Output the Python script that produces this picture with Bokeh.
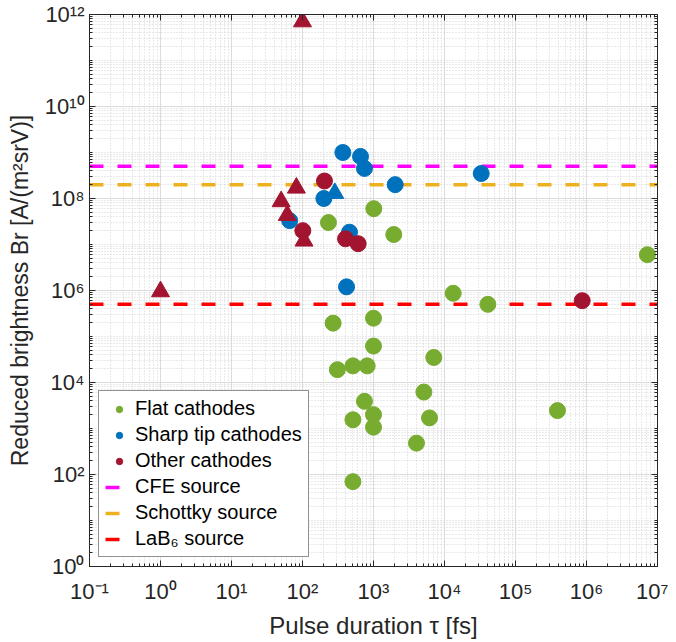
from bokeh.plotting import figure
from bokeh.models import (LogAxis, FixedTicker, CustomJSTickFormatter, Legend, LegendItem,
                          Range1d)
from bokeh.embed import file_html
from bokeh.resources import INLINE

# ---------------- data ----------------
flat_tau = [232, 1010, 1930, 7.2e6, 13250, 40800, 270, 1000, 1000, 7070, 310, 513, 815,
            5120, 746, 513, 1000, 1000, 6150, 3.9e5, 4030, 513]
flat_br = [3.0e7, 6e7, 1.65e7, 6e6, 8.7e5, 5e5, 1.95e5, 2.5e5, 6.2e4, 3.5e4, 1.9e4, 2.3e4, 2.3e4,
           6.2e3, 3.9e3, 1.55e3, 2e3, 1.07e3, 1.7e3, 2.45e3, 480, 70]

sharp_tau = [370, 656, 746, 2020, 32900, 200, 66, 459, 417]
sharp_br = [1e9, 8.2e8, 4.5e8, 2e8, 3.5e8, 1e8, 3.3e7, 1.85e7, 1.2e6]
sharp_tri_tau = [285]
sharp_tri_br = [1.3e8]

other_tau = [204, 101, 404, 608, 8.7e5]
other_br = [2.4e8, 2e7, 1.33e7, 1.04e7, 6e5]
other_tri_tau = [100, 82, 50, 61, 105, 1]
other_tri_br = [7e11, 1.7e8, 8.6e7, 4.3e7, 1.2e7, 9.5e5]

line_tau = [1e-1, 1e7]
cfe_br = [5e8, 5e8]
schottky_br = [2e8, 2e8]
lab6_br = [5e5, 5e5]

x_major = [10.0 ** k for k in range(-1, 8)]
y_major = [10.0 ** k for k in range(0, 13, 2)]

GREEN = "#77AC30"
BLUE = "#0072BD"
DRED = "#A2142F"
MAGENTA = "#FF00FF"
ORANGE = "#EDB120"
RED = "#FF0000"
TXT = "#262626"
FONT = "Liberation Sans"

x_minor = [m * 10.0 ** k for k in range(-1, 7) for m in range(2, 10)]
y_minor = [m * 10.0 ** k for k in range(0, 12) for m in range(1, 10) if not (m == 1 and k % 2 == 0)]

p = figure(width=668, height=642, x_axis_type="log", y_axis_type="log",
           x_range=Range1d(1e-1, 1e7), y_range=Range1d(1e0, 1e12),
           output_backend="svg", toolbar_location=None,
           min_border_left=89, min_border_right=11, min_border_top=14, min_border_bottom=76)

sup_code = """
const sup = {'-':'\u207b','0':'\u2070','1':'\u00b9','2':'\u00b2','3':'\u00b3','4':'\u2074',
             '5':'\u2075','6':'\u2076','7':'\u2077','8':'\u2078','9':'\u2079'};
const e = Math.round(Math.log10(tick));
return '10' + String(e).split('').map(c => sup[c]).join('');
"""
fmt = CustomJSTickFormatter(code=sup_code)
blank = CustomJSTickFormatter(code="return '';")

xt = FixedTicker(ticks=x_major, minor_ticks=x_minor)
yt = FixedTicker(ticks=y_major, minor_ticks=y_minor)

for ax, tk in ((p.xaxis[0], xt), (p.yaxis[0], yt)):
    ax.ticker = tk
    ax.formatter = fmt
    ax.major_label_text_font = FONT
    ax.major_label_text_font_size = "22px"
    ax.major_label_text_color = TXT
    ax.axis_label_text_font = FONT
    ax.axis_label_text_font_style = "normal"
    ax.axis_label_text_color = TXT
    ax.axis_line_color = TXT
    ax.major_tick_line_color = TXT
    ax.minor_tick_line_color = TXT
    ax.major_tick_in = 6
    ax.major_tick_out = 0
    ax.minor_tick_in = 3
    ax.minor_tick_out = 0

p.xaxis[0].axis_label = "Pulse duration \u03c4 [fs]"
p.yaxis[0].axis_label = "Reduced brightness Br [A/(m\u00b2srV)]"
p.xaxis[0].axis_label_text_font_size = "24px"
p.yaxis[0].axis_label_text_font_size = "23px"
p.xaxis[0].major_label_standoff = 12
p.xaxis[0].axis_label_standoff = 5
p.yaxis[0].major_label_standoff = 5
p.yaxis[0].axis_label_standoff = 9

for side, tk in (("above", xt), ("right", yt)):
    a = LogAxis(ticker=tk, formatter=blank, axis_line_color=TXT,
                major_tick_line_color=TXT, minor_tick_line_color=TXT,
                major_tick_in=6, major_tick_out=0, minor_tick_in=3, minor_tick_out=0,
                major_label_text_font_size="0px", major_label_standoff=0)
    p.add_layout(a, side)

p.outline_line_color = TXT
p.xgrid.ticker = xt
p.ygrid.ticker = yt
for g in (p.xgrid[0], p.ygrid[0]):
    g.grid_line_color = "#dcdcdc"
    g.grid_line_width = 1
    g.minor_grid_line_color = "#d2d2d2"
    g.minor_grid_line_dash = "1 2"
    g.minor_grid_line_width = 1

# horizontal reference lines
r_cfe = p.line(line_tau, cfe_br, line_color=MAGENTA, line_width=3.5, line_dash="14 14")
r_sch = p.line(line_tau, schottky_br, line_color=ORANGE, line_width=3.5, line_dash="14 14")
r_lab = p.line(line_tau, lab6_br, line_color=RED, line_width=3.5, line_dash="14 14")

# points
r_flat = p.scatter(flat_tau, flat_br, marker="circle", size=16, fill_color=GREEN, line_color=GREEN)
r_sharp = p.scatter(sharp_tau, sharp_br, marker="circle", size=16, fill_color=BLUE, line_color=BLUE)
p.scatter(sharp_tri_tau, sharp_tri_br, marker="triangle", size=18, fill_color=BLUE, line_color=BLUE)
r_other = p.scatter(other_tau, other_br, marker="circle", size=16, fill_color=DRED, line_color=DRED)
p.scatter(other_tri_tau, other_tri_br, marker="triangle", size=18, fill_color=DRED, line_color=DRED)

legend = Legend(items=[
    LegendItem(label="Flat cathodes", renderers=[r_flat]),
    LegendItem(label="Sharp tip cathodes", renderers=[r_sharp]),
    LegendItem(label="Other cathodes", renderers=[r_other]),
    LegendItem(label="CFE source", renderers=[r_cfe]),
    LegendItem(label="Schottky source", renderers=[r_sch]),
    LegendItem(label="LaB\u2086 source", renderers=[r_lab]),
], location=(9, 9))
legend.label_text_font = FONT
legend.label_text_font_size = "20px"
legend.label_text_color = "#000000"
legend.border_line_color = TXT
legend.border_line_width = 1
legend.background_fill_alpha = 1
legend.glyph_width = 28
legend.glyph_height = 16
legend.label_height = 20
legend.spacing = 3
legend.padding = 6
legend.label_standoff = 2
legend.margin = 0
p.add_layout(legend, "center")

open("out.html", "w").write(file_html(p, INLINE))
